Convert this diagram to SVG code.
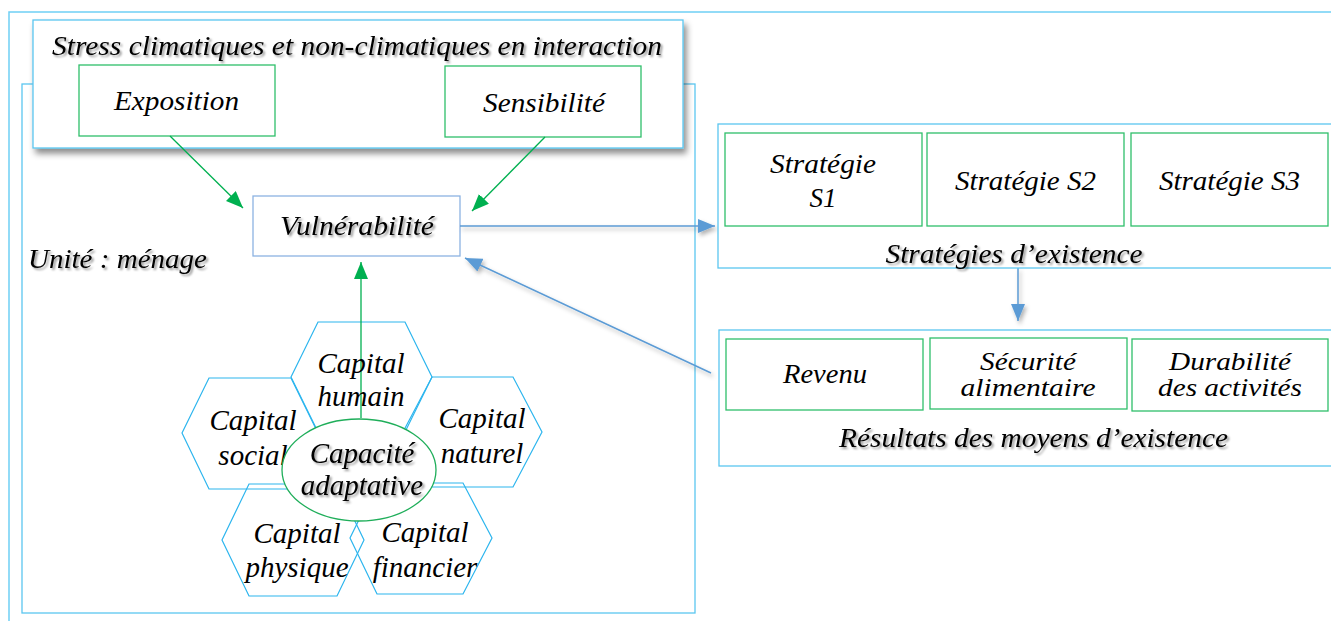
<svg xmlns="http://www.w3.org/2000/svg" width="1331" height="621" viewBox="0 0 1331 621">
<style>
.t{font-family:'Liberation Serif','Times New Roman','DejaVu Serif',serif;font-style:italic;font-size:27px;fill:#000}
.s2{font-size:25px}
.hx{font-size:29px}
.sh{filter:url(#tshadow)}
.frame{fill:none;stroke:#6fcff5;stroke-width:1.5}
.box{fill:#fff;stroke:#5bc6f0;stroke-width:1.3}
.gbox{fill:#fff;stroke:#2fbf6a;stroke-width:1.3}
.hex{fill:none;stroke:#2cb5ee;stroke-width:1.2}
.garrow{stroke:#00b050;stroke-width:1.3;fill:none;marker-end:url(#ga)}
.barrow{stroke:#5b9bd5;stroke-width:1.5;fill:none;marker-end:url(#ba);filter:url(#ashadow)}
</style>
<defs>
<filter id="tshadow" x="-10%" y="-30%" width="120%" height="160%">
<feDropShadow dx="2" dy="2" stdDeviation="1.2" flood-color="#000" flood-opacity="0.4"/>
</filter>
<filter id="bshadow" x="-5%" y="-10%" width="110%" height="125%">
<feDropShadow dx="3" dy="5" stdDeviation="3" flood-color="#000" flood-opacity="0.45"/>
</filter>
<filter id="ashadow" filterUnits="userSpaceOnUse" x="0" y="0" width="1331" height="621">
<feDropShadow dx="2" dy="3" stdDeviation="2" flood-color="#000" flood-opacity="0.3"/>
</filter>
<marker id="ga" markerUnits="userSpaceOnUse" markerWidth="18" markerHeight="14" refX="17" refY="7" orient="auto">
<path d="M0,0 L17,7 L0,14 z" fill="#00b050"/>
</marker>
<marker id="ba" markerUnits="userSpaceOnUse" markerWidth="18" markerHeight="14" refX="17" refY="7" orient="auto">
<path d="M0,0 L17,7 L0,14 z" fill="#5b9bd5"/>
</marker>
</defs>
<rect width="1331" height="621" fill="#fff"/>

<g id="outer-frame">
<path class="frame" d="M9,621 L9,12 L1331,12"/>
</g>

<g id="household">
<rect class="box" x="22" y="84" width="673" height="529" fill="none"/>
<text class="t sh" x="28" y="268" textLength="179" lengthAdjust="spacingAndGlyphs">Unité : ménage</text>
</g>

<g id="stress">
<rect class="box" x="33" y="20" width="650" height="128" filter="url(#bshadow)"/>
<text class="t sh" x="52" y="55" textLength="610" lengthAdjust="spacingAndGlyphs">Stress climatiques et non-climatiques en interaction</text>
</g>

<g id="exposition">
<rect class="gbox" x="79" y="65" width="196" height="71"/>
<text class="t" x="176.5" y="110" text-anchor="middle" textLength="125" lengthAdjust="spacingAndGlyphs">Exposition</text>
</g>

<g id="sensibilite">
<rect class="gbox" x="445" y="66" width="196" height="71"/>
<text class="t" x="544" y="112" text-anchor="middle" textLength="122" lengthAdjust="spacingAndGlyphs">Sensibilité</text>
</g>

<g id="vulnerabilite">
<rect x="253" y="196" width="207" height="60" fill="#fff" stroke="#8db3e2" stroke-width="1.3"/>
<text class="t sh" x="357" y="235" text-anchor="middle" textLength="154" lengthAdjust="spacingAndGlyphs">Vulnérabilité</text>
</g>

<g id="capitals">
<polygon class="hex" points="318,322 405,322 432,377 405,432 318,432 291,377"/>
<polygon class="hex" points="209,378 291,378 318,433 291,489 209,489 182,433"/>
<polygon class="hex" points="432,377 513,377 542,432 513,487 432,487 403,432"/>
<polygon class="hex" points="249,484 337,484 364,540 337,596 249,596 222,540"/>
<polygon class="hex" points="377,483 463,483 492,538 463,594 377,594 350,538"/>
<text class="t hx" x="253" y="430" text-anchor="middle">Capital</text>
<text class="t hx" x="253" y="465" text-anchor="middle">social</text>
</g>

<g id="capacite">
<ellipse cx="359" cy="470" rx="77" ry="51" fill="#fff" stroke="#1fae5a" stroke-width="1.3"/>
<text class="t hx sh" x="362" y="463" text-anchor="middle">Capacité</text>
<text class="t hx sh" x="362" y="495" text-anchor="middle">adaptative</text>
</g>

<g id="connectors">
<line class="garrow" x1="170" y1="136" x2="243" y2="208"/>
<line class="garrow" x1="545" y1="137" x2="472" y2="211"/>
<line class="garrow" x1="361" y1="418" x2="361" y2="262"/>
<line class="barrow" x1="460" y1="226" x2="715" y2="226"/>
<line class="barrow" x1="1018" y1="268" x2="1018" y2="321"/>
<line class="barrow" x1="711" y1="373" x2="465" y2="258"/>
</g>

<g id="capital-labels">
<text class="t hx" x="361" y="373" text-anchor="middle">Capital</text>
<text class="t hx" x="361" y="406" text-anchor="middle">humain</text>
<text class="t hx" x="482" y="428" text-anchor="middle">Capital</text>
<text class="t hx" x="482" y="463" text-anchor="middle">naturel</text>
<text class="t hx" x="297" y="543" text-anchor="middle">Capital</text>
<text class="t hx" x="297" y="577" text-anchor="middle">physique</text>
<text class="t hx" x="425" y="542" text-anchor="middle">Capital</text>
<text class="t hx" x="425" y="577" text-anchor="middle">financier</text>
</g>

<g id="strategies">
<rect class="box" x="718" y="124" width="630" height="144"/>
<text class="t sh" x="1014" y="263" text-anchor="middle" textLength="257" lengthAdjust="spacingAndGlyphs">Stratégies d’existence</text>
</g>
<g id="strategie-s1">
<rect class="gbox" x="725" y="133" width="197" height="93"/>
<text class="t" x="823" y="173" text-anchor="middle" textLength="106" lengthAdjust="spacingAndGlyphs">Stratégie</text>
<text class="t" x="823" y="207" text-anchor="middle">S1</text>
</g>
<g id="strategie-s2">
<rect class="gbox" x="927" y="133" width="197" height="93"/>
<text class="t" x="1025.5" y="190" text-anchor="middle" textLength="141" lengthAdjust="spacingAndGlyphs">Stratégie S2</text>
</g>
<g id="strategie-s3">
<rect class="gbox" x="1131" y="133" width="197" height="93"/>
<text class="t" x="1229.5" y="190" text-anchor="middle" textLength="141" lengthAdjust="spacingAndGlyphs">Stratégie S3</text>
</g>

<g id="resultats">
<rect class="box" x="719" y="330" width="630" height="136"/>
<text class="t sh" x="1033.5" y="447" text-anchor="middle" textLength="389" lengthAdjust="spacingAndGlyphs">Résultats des moyens d’existence</text>
</g>
<g id="revenu">
<rect class="gbox" x="726" y="339" width="197" height="71"/>
<text class="t" x="825" y="383" text-anchor="middle" textLength="84" lengthAdjust="spacingAndGlyphs">Revenu</text>
</g>
<g id="securite">
<rect class="gbox" x="930" y="338" width="197" height="71"/>
<text class="t s2" x="1028" y="370" text-anchor="middle" textLength="96" lengthAdjust="spacingAndGlyphs">Sécurité</text>
<text class="t s2" x="1028" y="396" text-anchor="middle" textLength="135" lengthAdjust="spacingAndGlyphs">alimentaire</text>
</g>
<g id="durabilite">
<rect class="gbox" x="1132" y="339" width="196" height="72"/>
<text class="t s2" x="1230" y="370" text-anchor="middle" textLength="122" lengthAdjust="spacingAndGlyphs">Durabilité</text>
<text class="t s2" x="1230" y="396" text-anchor="middle" textLength="144" lengthAdjust="spacingAndGlyphs">des activités</text>
</g>
</svg>
